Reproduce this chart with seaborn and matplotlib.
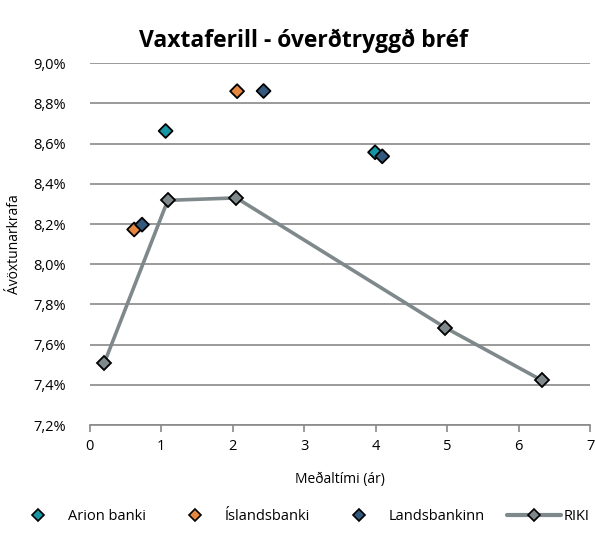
import pandas as pd
import matplotlib.pyplot as plt
import matplotlib.ticker as mticker
from matplotlib.lines import Line2D
import seaborn as sns

# data (duration in years, yield in %)
arion_x = [1.06, 3.99]
arion_y = [8.663, 8.557]
islands_x = [0.62, 2.06]
islands_y = [8.173, 8.861]
lands_x = [0.73, 2.43, 4.09]
lands_y = [8.197, 8.862, 8.537]
riki_x = [0.20, 1.09, 2.05, 4.97, 6.32]
riki_y = [7.507, 8.318, 8.330, 7.685, 7.423]

banks = ["Arion banki", "Íslandsbanki", "Landsbankinn"]
colors = {"Arion banki": "#1797A6", "Íslandsbanki": "#E6873F", "Landsbankinn": "#34597F"}
riki_color = "#7F898B"

df = pd.DataFrame({
    "x": arion_x + islands_x + lands_x,
    "y": arion_y + islands_y + lands_y,
    "bank": [banks[0]] * len(arion_x) + [banks[1]] * len(islands_x) + [banks[2]] * len(lands_x),
})
riki = pd.DataFrame({"x": riki_x, "y": riki_y})

sns.set_theme(style="white")
plt.rcParams["font.family"] = ["Open Sans", "DejaVu Sans"]
plt.rcParams.update({"text.color": "black", "axes.labelcolor": "black",
                     "xtick.labelcolor": "black", "ytick.labelcolor": "black"})

fig = plt.figure(figsize=(5.95, 5.36), dpi=100)
ax = fig.add_axes([0.151, 0.207, 0.841, 0.675])

sns.lineplot(data=riki, x="x", y="y", ax=ax, color=riki_color, linewidth=2.6,
             marker="D", markersize=7, markerfacecolor=riki_color,
             markeredgecolor="black", markeredgewidth=1.3, zorder=3)
sns.scatterplot(data=df, x="x", y="y", hue="bank", palette=colors, ax=ax,
                marker="D", s=50, edgecolor="black", linewidth=1.3,
                legend=False, zorder=4)

ax.set_xlim(0, 7)
ax.set_ylim(7.2, 9.0)
ax.set_xticks(range(0, 8))
ax.set_yticks([7.2 + 0.2 * i for i in range(10)])
ax.yaxis.set_major_formatter(mticker.FuncFormatter(lambda v, p: f"{v:.1f}%".replace(".", ",")))
ax.grid(axis="y", color="#898989", linewidth=1.2)
ax.set_axisbelow(True)
for s in ["top", "right", "left"]:
    ax.spines[s].set_visible(False)
ax.spines["bottom"].set_color("#898989")
ax.spines["bottom"].set_linewidth(1.2)
ax.tick_params(axis="x", bottom=True, length=5, width=1.2, color="#898989",
               labelsize=10.5, pad=5, labelcolor="black")
ax.tick_params(axis="y", left=False, labelsize=10.5, pad=11, labelcolor="black")

ax.set_xlabel("Meðaltími (ár)", fontsize=10, labelpad=13)
ax.set_ylabel("Ávöxtunarkrafa", fontsize=10, labelpad=8)
ax.set_title("Vaxtaferill - óverðtryggð bréf", fontsize=16.5, fontweight="bold",
             pad=12, x=0.426, color="black")

handles = [Line2D([], [], linestyle="none", marker="D", markersize=6,
                  markerfacecolor=colors[b], markeredgecolor="black",
                  markeredgewidth=1.2) for b in banks]
handles.append(Line2D([], [], color=riki_color, linewidth=3, marker="D", markersize=6.5,
                      markerfacecolor=riki_color, markeredgecolor="black", markeredgewidth=1.2))
fig.legend(handles, banks + ["RIKI"], loc="center", bbox_to_anchor=(0.505, 0.037),
           ncol=4, frameon=False, fontsize=10.5, handlelength=3.7, columnspacing=1.5,
           handletextpad=0.2)

fig.savefig("out.png", dpi=100)
